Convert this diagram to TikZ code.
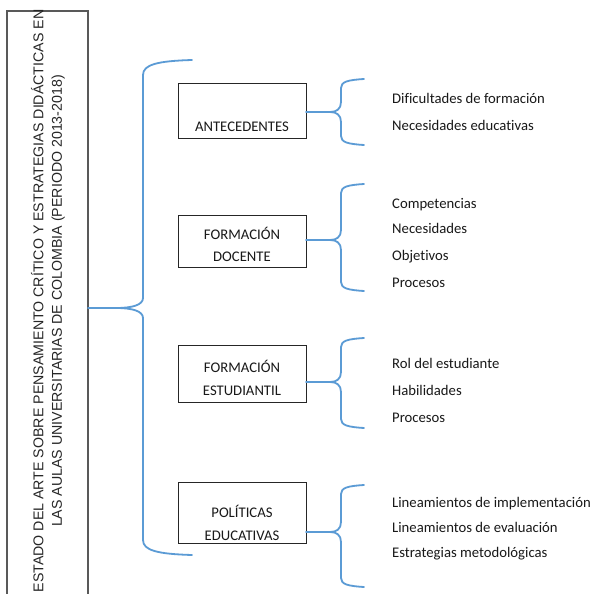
\documentclass[tikz,border=0pt]{standalone}
\usepackage{fontspec}
\setmainfont{Carlito}[Ligatures=NoCommon]
\newfontfamily\arialf{Liberation Sans}
\definecolor{bracecol}{HTML}{5B9BD5}
\definecolor{framecol}{HTML}{595959}
% #1 tip x, #2 tip y, #3 vertical x, #4 end x, #5 top y, #6 bottom y, #7 corner size, #8 tip curve height, #9 tip curve width
\newcommand{\mybrace}[9]{%
\draw[brace] (#4,#5) .. controls ({#3+0.3*(#4-#3)},{#5+1}) and (#3,{#5+0.3*#7}) .. (#3,{#5+#7})
 -- (#3,{#2-#8}) .. controls (#3,{#2-0.3*#8}) and ({#3-0.4*#9},#2) .. ({#3-#9},#2)
 -- (#1,#2) -- ({#3-#9},#2)
 .. controls ({#3-0.4*#9},#2) and (#3,{#2+0.3*#8}) .. (#3,{#2+#8})
 -- (#3,{#6-#7}) .. controls (#3,{#6-0.3*#7}) and ({#3+0.3*(#4-#3)},{#6-1}) .. (#4,#6);}
\begin{document}
\begin{tikzpicture}[x=1pt,y=-1pt,
  brace/.style={draw=bracecol,line width=1.8pt,line join=round,line cap=round},
  frame/.style={draw=framecol,line width=1.1pt},
  box/.style={draw=black!85,line width=0.9pt,minimum width=128pt,inner sep=0pt},
  boxtext/.style={align=center,inner sep=0pt,font=\fontsize{14.7}{22.5}\selectfont,text=black!90},
  item/.style={anchor=base west,inner sep=0pt,font=\fontsize{14.7}{17}\selectfont,text=black!90},
  titletext/.style={rotate=90,align=center,inner sep=0pt,font=\arialf\fontsize{14.2}{18.5}\selectfont,text=black!85}]
\useasboundingbox (0,0) rectangle (595,594);
\fill[white] (0,0) rectangle (595,594);
% title frame
\draw[frame] (7,610) |- (88,11) -- (88,610);
\node[titletext] (title) at (48,301) {ESTADO DEL ARTE SOBRE PENSAMIENTO CRÍTICO Y ESTRATEGIAS DIDÁCTICAS EN\\LAS AULAS UNIVERSITARIAS DE COLOMBIA (PERIODO 2013-2018)};
% boxes
\node[box,minimum height=55pt,label={[boxtext,yshift=-16pt]center:ANTECEDENTES}] (ant) at (242,110.5) {};
\node[box,minimum height=52pt,label={[boxtext,yshift=-3.5pt]center:{FORMACIÓN\\DOCENTE}}] (doc) at (242,241) {};
\node[box,minimum height=57pt,label={[boxtext,yshift=-4.5pt]center:{FORMACIÓN\\ESTUDIANTIL}}] (est) at (242,373.5) {};
\node[box,minimum height=61pt,label={[boxtext,yshift=-10.5pt]center:{POLÍTICAS\\EDUCATIVAS}}] (pol) at (242,512.5) {};
% braces
\mybrace{88}{308}{143}{192}{60}{555}{15}{10}{27}
\mybrace{306}{112}{341}{364}{79}{145}{9}{10}{11}
\mybrace{306}{240}{341}{364}{184}{291}{9}{10}{11}
\mybrace{306}{382}{341}{364}{338}{428}{9}{10}{11}
\mybrace{306}{532}{341}{364}{485}{587}{9}{10}{11}
% items
\node[item] (a1) at (392,103) {Dificultades de formación};
\node[item] (a2) at (392,130) {Necesidades educativas};
\node[item] (b1) at (392,208) {Competencias};
\node[item] (b2) at (392,233) {Necesidades};
\node[item] (b3) at (392,260) {Objetivos};
\node[item] (b4) at (392,287) {Procesos};
\node[item] (c1) at (392,368) {Rol del estudiante};
\node[item] (c2) at (392,395) {Habilidades};
\node[item] (c3) at (392,422) {Procesos};
\node[item] (d1) at (392,507) {Lineamientos de implementación};
\node[item] (d2) at (392,532) {Lineamientos de evaluación};
\node[item] (d3) at (392,557) {Estrategias metodológicas};
\end{tikzpicture}
\end{document}
